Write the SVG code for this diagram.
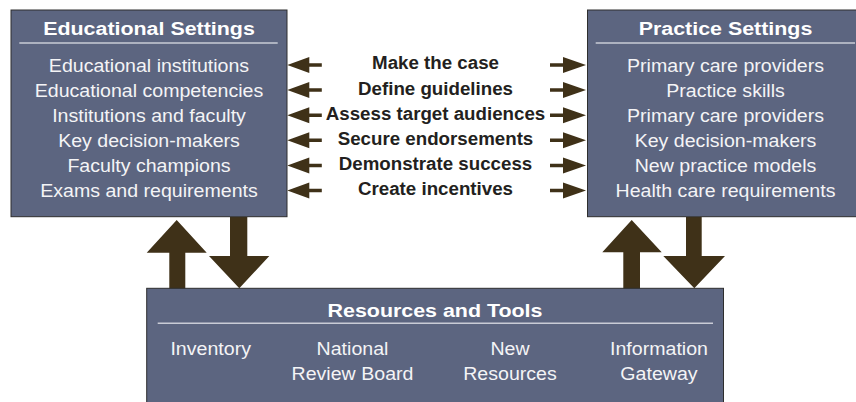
<svg xmlns="http://www.w3.org/2000/svg" width="856" height="402" viewBox="0 0 856 402">
<style>
.box{fill:#5c6580;stroke:#2e2e2e;stroke-width:1}
.rule{stroke:#c9ccd6;stroke-width:1.5}
.ttl{font-family:"Liberation Sans",Arial,sans-serif;font-weight:bold;font-size:18px;fill:#ffffff;text-anchor:middle}
.itm{font-family:"Liberation Sans",Arial,sans-serif;font-size:17.5px;fill:#f4f4f6;text-anchor:middle}
.act{font-family:"Liberation Sans",Arial,sans-serif;font-weight:bold;font-size:18px;fill:#231f20;text-anchor:middle}
.arr{fill:#3f3118}
</style>
<defs>
<path id="la" d="M0,0 L22,-8 L22,-1.75 L34.5,-1.75 L34.5,1.75 L22,1.75 L22,8 Z"/>
<path id="ra" d="M0,0 L-23,-8 L-23,-1.75 L-36,-1.75 L-36,1.75 L-23,1.75 L-23,8 Z"/>
</defs>
<rect width="856" height="402" fill="#ffffff"/>

<g id="connectors" class="arr">
<use href="#la" x="287.3" y="65"/>
<use href="#la" x="287.3" y="90.1"/>
<use href="#la" x="287.3" y="115.2"/>
<use href="#la" x="287.3" y="140.3"/>
<use href="#la" x="287.3" y="165.4"/>
<use href="#la" x="287.3" y="190.5"/>
<use href="#ra" x="586" y="65"/>
<use href="#ra" x="586" y="90.1"/>
<use href="#ra" x="586" y="115.2"/>
<use href="#ra" x="586" y="140.3"/>
<use href="#ra" x="586" y="165.4"/>
<use href="#ra" x="586" y="190.5"/>
<path d="M176.7,220 L206.7,252.7 L185.3,252.7 L185.3,289 L169.3,289 L169.3,252.7 L146.7,252.7 Z"/>
<path d="M230,217 L247.3,217 L247.3,256 L269.3,256 L239.3,288.3 L209,256 L230,256 Z"/>
<path d="M631.7,220 L661.7,252.3 L640,252.3 L640,289 L623.3,289 L623.3,252.3 L602.3,252.3 Z"/>
<path d="M686,217 L701.7,217 L701.7,256 L725,256 L694.3,288.3 L663.3,256 L686,256 Z"/>
</g>

<g id="actions">
<g transform="translate(435.5 0) scale(1.04 1)">
<text class="act" x="0" y="69.5">Make the case</text>
<text class="act" x="0" y="94.7">Define guidelines</text>
<text class="act" x="0" y="119.9">Assess target audiences</text>
<text class="act" x="0" y="145.1">Secure endorsements</text>
<text class="act" x="0" y="170.3">Demonstrate success</text>
<text class="act" x="0" y="195.5">Create incentives</text>
</g>
</g>

<g id="educational-settings">
<rect class="box" x="11" y="10" width="276" height="206.7"/>
<line class="rule" x1="19.3" y1="43" x2="277.7" y2="43"/>
<text class="ttl" transform="translate(149 35) scale(1.19 1)">Educational Settings</text>
<g transform="translate(149 0) scale(1.12 1)">
<text class="itm" x="0" y="71.7">Educational institutions</text>
<text class="itm" x="0" y="96.7">Educational competencies</text>
<text class="itm" x="0" y="121.7">Institutions and faculty</text>
<text class="itm" x="0" y="146.7">Key decision-makers</text>
<text class="itm" x="0" y="171.7">Faculty champions</text>
<text class="itm" x="0" y="196.7">Exams and requirements</text>
</g>
</g>

<g id="practice-settings">
<rect class="box" x="587.5" y="10" width="276" height="206.7"/>
<line class="rule" x1="595.7" y1="43" x2="855" y2="43"/>
<text class="ttl" transform="translate(725.5 35) scale(1.19 1)">Practice Settings</text>
<g transform="translate(725.5 0) scale(1.12 1)">
<text class="itm" x="0" y="71.7">Primary care providers</text>
<text class="itm" x="0" y="96.7">Practice skills</text>
<text class="itm" x="0" y="121.7">Primary care providers</text>
<text class="itm" x="0" y="146.7">Key decision-makers</text>
<text class="itm" x="0" y="171.7">New practice models</text>
<text class="itm" x="0" y="196.7">Health care requirements</text>
</g>
</g>

<g id="resources-and-tools">
<rect class="box" x="146.7" y="288.3" width="576.8" height="130"/>
<line class="rule" x1="157.7" y1="323.3" x2="713" y2="323.3"/>
<text class="ttl" transform="translate(435 316.7) scale(1.19 1)">Resources and Tools</text>
<g transform="translate(210.7 0) scale(1.12 1)"><text class="itm" x="0" y="355">Inventory</text></g>
<g transform="translate(352.5 0) scale(1.12 1)"><text class="itm" x="0" y="355">National</text><text class="itm" x="0" y="380">Review Board</text></g>
<g transform="translate(510 0) scale(1.12 1)"><text class="itm" x="0" y="355">New</text><text class="itm" x="0" y="380">Resources</text></g>
<g transform="translate(659 0) scale(1.12 1)"><text class="itm" x="0" y="355">Information</text><text class="itm" x="0" y="380">Gateway</text></g>
</g>
</svg>
